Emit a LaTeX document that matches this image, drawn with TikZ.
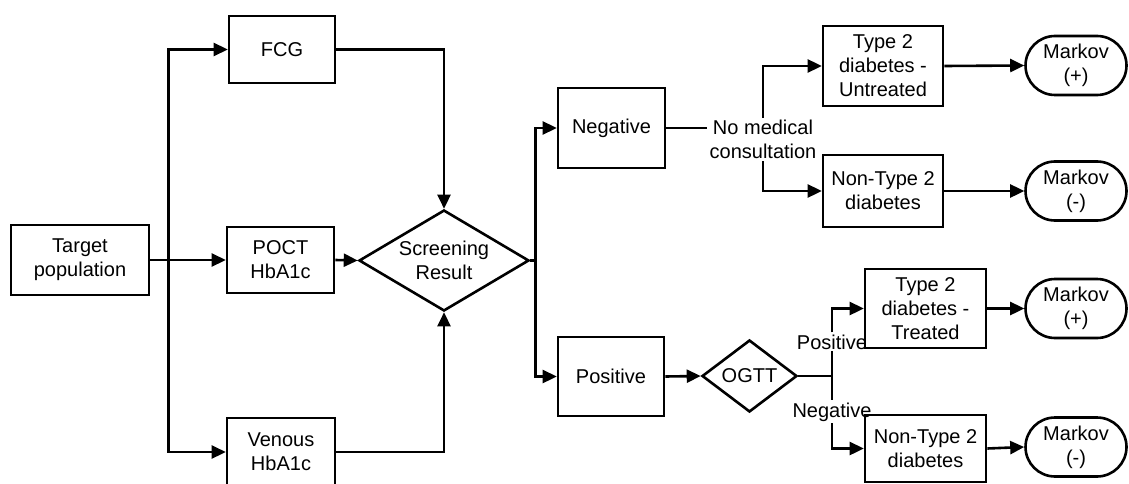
\documentclass[tikz,border=0pt]{standalone}
\usepackage{fontspec}
\setmainfont{Liberation Sans}
\usetikzlibrary{arrows.meta,shapes.geometric}
\newcommand\fsz{\fontsize{20}{24}\selectfont}
\begin{document}
\begin{tikzpicture}[x=1pt,y=-1pt,
  lw/.style={line width=2.6pt},
  box/.style={draw, lw, rectangle, align=center, inner sep=0pt, font=\fsz},
  dia/.style={draw, lw, diamond, align=center, inner sep=0pt, font=\fsz},
  mk/.style={draw, lw, rectangle, rounded corners=29.5pt, align=center, inner sep=0pt, font=\fsz, minimum width=101pt, minimum height=59pt},
  arr/.style={lw, -{Triangle[length=14pt,width=13pt]}},
  ln/.style={lw},
  lbl/.style={inner sep=2pt, font=\fsz, align=center}]
\useasboundingbox (0,0) rectangle (1129,484);
% nodes
\node[box, minimum width=138pt, minimum height=70pt] (tp) at (80,260) {Target\\population};
\node[box, minimum width=106pt, minimum height=67pt] (fcg) at (282,49.5) {FCG};
\node[box, minimum width=107pt, minimum height=66pt] (poct) at (280.5,260) {POCT\\HbA1c};
\node[box, minimum width=108pt, minimum height=68pt] (ven) at (281,452) {Venous\\HbA1c};
\node[dia, minimum width=170pt, minimum height=101pt, shape aspect=1.67] (sr) at (444,260.5) {Screening\\Result};
\node[box, minimum width=107pt, minimum height=80pt] (neg) at (611.5,128) {Negative};
\node[box, minimum width=106pt, minimum height=79pt] (pos) at (611,376.5) {Positive};
\node[dia, minimum width=95pt, minimum height=72pt, shape aspect=1.3] (ogtt) at (749.5,376) {OGTT};
\node[lbl] (nmc) at (763,139.5) {No medical\\consultation};
\node[box, minimum width=120pt, minimum height=80pt] (untr) at (883,66) {Type 2\\diabetes -\\Untreated};
\node[box, minimum width=120pt, minimum height=72pt] (nta) at (883,191) {Non-Type 2\\diabetes};
\node[mk] (mpa) at (1076,65.5) {Markov\\(+)};
\node[mk] (mma) at (1076,191) {Markov\\(-)};
\node[box, minimum width=121pt, minimum height=79pt] (tr) at (925.5,308.5) {Type 2\\diabetes -\\Treated};
\node[box, minimum width=121pt, minimum height=67pt] (ntb) at (925.5,448.5) {Non-Type 2\\diabetes};
\node[mk] (mpb) at (1076,308.5) {Markov\\(+)};
\node[mk] (mmb) at (1076,447) {Markov\\(-)};
\node[lbl, anchor=base] (lpos) at (832,349) {Positive};
\node[lbl, anchor=base] (lneg) at (832,417) {Negative};
% connectors
\draw[arr] (tp.east) -- (poct.west);
\draw[arr] (tp.east) -- ++(18,0) |- (fcg.west);
\draw[arr] (tp.east) -- ++(18,0) |- (ven.west);
\draw[arr] (fcg.east) -| (sr.north);
\draw[arr] (ven.east) -| (sr.south);
\draw[arr] (poct.east) -- (sr.west);
\draw[arr] (sr.east) -- ++(5,0) |- (neg.west);
\draw[arr] (sr.east) -- ++(5,0) |- (pos.west);
\draw[ln] (neg.east) -- (neg.east -| nmc.west);
\draw[arr] (nmc.north) |- (untr.west);
\draw[arr] (nmc.south) |- (nta.west);
\draw[arr] (untr.east) -- (mpa.west);
\draw[arr] (nta.east) -- (mma.west);
\draw[arr] (pos.east) -- (ogtt.west);
\draw[ln] (ogtt.east) -- (ogtt.east -| lpos.south);
\draw[arr] (lpos.north) |- (tr.west);
\draw[ln] (lpos.south) -- (lneg.north);
\draw[arr] (lneg.south) |- (ntb.west);
\draw[arr] (tr.east) -- (mpb.west);
\draw[arr] (ntb.east) -- (mmb.west);
\end{tikzpicture}
\end{document}
